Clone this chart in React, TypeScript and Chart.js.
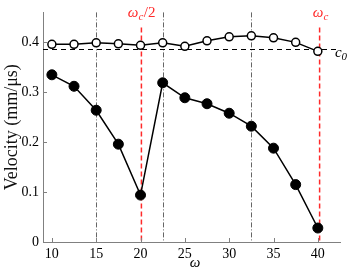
import React, { useEffect, useRef } from 'react';
import { Chart, registerables } from 'chart.js';

Chart.register(...registerables);

const omega = [10, 12.5, 15, 17.5, 20, 22.5, 25, 27.5, 30, 32.5, 35, 37.5, 40];
const velocityOpen = [0.396, 0.396, 0.399, 0.397, 0.394, 0.399, 0.392, 0.403, 0.411, 0.413, 0.409, 0.4, 0.382];
const velocityFilled = [0.335, 0.312, 0.264, 0.196, 0.094, 0.319, 0.289, 0.277, 0.258, 0.232, 0.188, 0.115, 0.028];
const xTicks = [10, 15, 20, 25, 30, 35, 40];
const yTicks = [0, 0.1, 0.2, 0.3, 0.4];
const c0 = 0.386;
const omegaC = 40.2;
const grayLines = [15, 22.5, 32.5];

const SERIF = "'Liberation Serif', 'Times New Roman', serif";

function drawSub(
  ctx: CanvasRenderingContext2D,
  cx: number,
  y: number,
  base: string,
  sub: string,
  rest: string,
  color: string,
  size: number
) {
  ctx.save();
  ctx.fillStyle = color;
  ctx.textBaseline = 'alphabetic';
  ctx.textAlign = 'left';
  const fBase = `italic ${size}px ${SERIF}`;
  const fSub = `italic ${Math.round(size * 0.7)}px ${SERIF}`;
  const fRest = `${size}px ${SERIF}`;
  ctx.font = fBase;
  const w1 = ctx.measureText(base).width;
  ctx.font = fSub;
  const w2 = ctx.measureText(sub).width;
  ctx.font = fRest;
  const w3 = rest ? ctx.measureText(rest).width : 0;
  let x = cx - (w1 + w2 + w3) / 2;
  ctx.font = fBase;
  ctx.fillText(base, x, y);
  x += w1;
  ctx.font = fSub;
  ctx.fillText(sub, x, y + size * 0.2);
  x += w2 + 0.5;
  if (rest) {
    ctx.font = fRest;
    ctx.fillText(rest, x, y);
  }
  ctx.restore();
}

const overlay = {
  id: 'overlay',
  beforeDatasetsDraw(chart: any) {
    const { ctx, chartArea: a, scales } = chart;
    const x = scales.x;
    const y = scales.y;
    ctx.save();
    const line = (x1: number, y1: number, x2: number, y2: number) => {
      ctx.beginPath();
      ctx.moveTo(x1, y1);
      ctx.lineTo(x2, y2);
      ctx.stroke();
    };
    ctx.strokeStyle = '#666666';
    ctx.lineWidth = 1;
    ctx.setLineDash([5, 2, 1, 2]);
    for (const v of grayLines) {
      const px = Math.round(x.getPixelForValue(v)) + 0.5;
      line(px, a.top, px, a.bottom);
    }
    ctx.strokeStyle = '#000000';
    ctx.setLineDash([5, 4]);
    const py = Math.round(y.getPixelForValue(c0)) + 0.5;
    line(a.left, py, a.right, py);
    ctx.strokeStyle = '#ff2a2a';
    ctx.lineWidth = 1.5;
    ctx.setLineDash([5, 3]);
    for (const v of [omegaC / 2, omegaC]) {
      const px = x.getPixelForValue(v);
      line(px, a.top + 15, px, a.bottom);
    }
    ctx.restore();
  },
  afterDraw(chart: any) {
    const { ctx, chartArea: a, scales } = chart;
    const x = scales.x;
    const y = scales.y;
    ctx.save();
    ctx.strokeStyle = '#808080';
    ctx.lineWidth = 1;
    ctx.setLineDash([]);
    for (const v of xTicks) {
      const px = Math.round(x.getPixelForValue(v)) + 0.5;
      ctx.beginPath();
      ctx.moveTo(px, a.bottom);
      ctx.lineTo(px, a.bottom - 4);
      ctx.stroke();
    }
    for (const v of yTicks) {
      const py = Math.round(y.getPixelForValue(v)) + 0.5;
      ctx.beginPath();
      ctx.moveTo(a.left, py);
      ctx.lineTo(a.left + 4, py);
      ctx.stroke();
    }
    // y title
    ctx.save();
    ctx.translate(12, (a.top + a.bottom) / 2);
    ctx.rotate(-Math.PI / 2);
    ctx.fillStyle = '#111';
    ctx.font = `18px ${SERIF}`;
    ctx.textAlign = 'center';
    ctx.textBaseline = 'middle';
    ctx.fillText('Velocity (mm/μs)', 0, 0);
    ctx.restore();
    // x title
    ctx.fillStyle = '#000';
    ctx.font = `italic 15px ${SERIF}`;
    ctx.textAlign = 'center';
    ctx.textBaseline = 'alphabetic';
    ctx.fillText('ω', 195, 267);
    // annotations
    drawSub(ctx, x.getPixelForValue(omegaC / 2), 17, 'ω', 'c', '/2', '#ff2a2a', 15);
    drawSub(ctx, x.getPixelForValue(omegaC) + 1, 17, 'ω', 'c', '', '#ff2a2a', 15);
    drawSub(ctx, 341, y.getPixelForValue(c0) + 7.5, 'c', '0', '', '#000', 15);
    ctx.restore();
  },
};

export default function App() {
  const ref = useRef<HTMLCanvasElement>(null);
  useEffect(() => {
    if (!ref.current) return;
    const tickFont = { family: SERIF, size: 14 };
    const chart = new Chart(ref.current, {
      type: 'line',
      data: {
        datasets: [
          {
            data: omega.map((w, i) => ({ x: w, y: velocityOpen[i] })),
            borderColor: '#000',
            borderWidth: 1.5,
            pointRadius: 4,
            pointBackgroundColor: '#fff',
            pointBorderColor: '#000',
            pointBorderWidth: 1.5,
          },
          {
            data: omega.map((w, i) => ({ x: w, y: velocityFilled[i] })),
            borderColor: '#000',
            borderWidth: 1.5,
            pointRadius: 5,
            pointBackgroundColor: '#000',
            pointBorderColor: '#000',
            pointBorderWidth: 1,
          },
        ],
      },
      options: {
        responsive: false,
        animation: false,
        layout: { padding: { top: 5, right: 14, left: 0, bottom: 0 } },
        plugins: { legend: { display: false }, tooltip: { enabled: false } },
        scales: {
          x: {
            type: 'linear',
            min: 9,
            max: 42.5,
            afterBuildTicks: (s: any) => {
              s.ticks = xTicks.map((v) => ({ value: v }));
            },
            afterFit: (s: any) => {
              s.height = 28;
            },
            grid: { display: true, drawOnChartArea: false, drawTicks: false },
            border: { display: true, color: '#808080', width: 1 },
            ticks: { font: tickFont, color: '#000', padding: 4, maxRotation: 0, autoSkip: false, callback: (v: any) => String(v) },
          },
          y: {
            type: 'linear',
            min: 0,
            max: 0.46,
            afterBuildTicks: (s: any) => {
              s.ticks = yTicks.map((v) => ({ value: v }));
            },
            afterFit: (s: any) => {
              s.width = 43;
            },
            grid: { display: true, drawOnChartArea: false, drawTicks: false },
            border: { display: true, color: '#808080', width: 1 },
            ticks: { font: tickFont, color: '#000', padding: 4, autoSkip: false, callback: (v: any) => (v === 0 ? '0' : Number(v).toFixed(1)) },
          },
        },
      },
      plugins: [overlay],
    } as any);
    return () => chart.destroy();
  }, []);
  return (
    <div style={{ position: 'fixed', left: 0, top: 0, width: 354, height: 270, background: '#fff' }}>
      <canvas ref={ref} width={354} height={270} />
    </div>
  );
}
